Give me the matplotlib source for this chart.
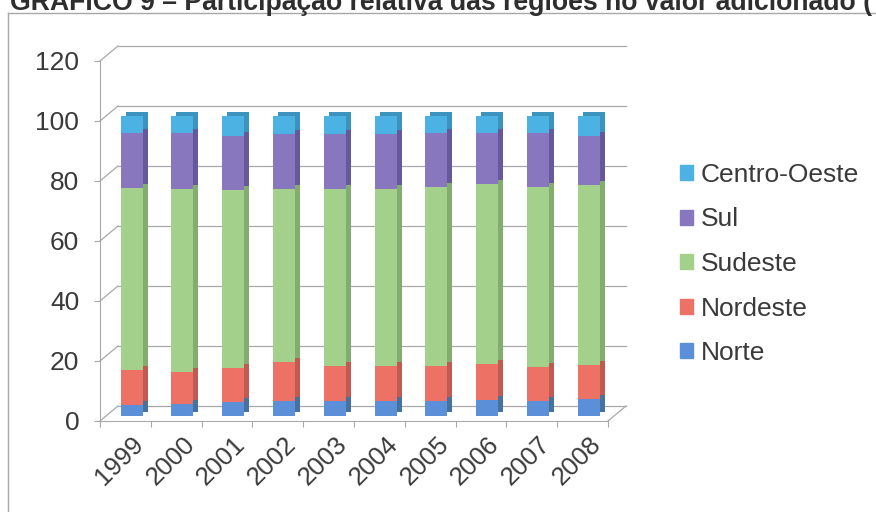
import matplotlib
matplotlib.use('Agg')
import matplotlib.pyplot as plt
from matplotlib.transforms import offset_copy
from matplotlib.patches import Patch
from matplotlib.lines import Line2D
import numpy as np

plt.rcParams['font.family'] = ['Liberation Sans', 'DejaVu Sans']

TITLE = 'GRÁFICO 9 – Participação relativa das regiões no valor adicionado ('
YEARS = ['1999', '2000', '2001', '2002', '2003', '2004', '2005', '2006', '2007', '2008']
REGIONS = ['Norte', 'Nordeste', 'Sudeste', 'Sul', 'Centro-Oeste']
NORTE = [3.7, 3.9, 4.6, 5.0, 5.0, 5.0, 5.0, 5.3, 4.9, 5.6]
NORDESTE = [11.5, 10.9, 11.5, 12.9, 11.8, 11.8, 11.8, 12.1, 11.5, 11.4]
SUDESTE = [60.9, 60.9, 59.3, 57.7, 58.8, 58.8, 59.6, 60.1, 60.0, 60.0]
SUL = [18.1, 18.5, 18.1, 18.3, 18.4, 18.3, 17.8, 16.7, 18.0, 16.4]
CENTRO_OESTE = [5.8, 5.8, 6.5, 6.1, 6.0, 6.1, 5.8, 5.8, 5.6, 6.6]
Y_TICKS = [0, 20, 40, 60, 80, 100, 120]

FRONT = ['#5B8FD8', '#EE7166', '#A3D08A', '#8877BE', '#4CB2E4']
SIDE = ['#46729F', '#C05A52', '#82AD6E', '#66589A', '#3C93BE']
LINE = '#A8A8A8'
TEXT = '#3A3A3A'

fig = plt.figure(figsize=(8.76, 5.12), dpi=100)
ax = fig.add_axes([100 / 876, 1 - 421 / 512, 528 / 876, 375 / 512])
x0, x1 = -0.624, 9.376
ax.set_xlim(x0, 9.77)
ax.set_ylim(0, 125)

# back wall, offset like the 3d excel chart
DX, DY = 0.354, 5
for y in Y_TICKS:
    ax.plot([x0 + DX, x1 + DX], [y + DY, y + DY], color=LINE, lw=0.9, zorder=1, clip_on=False)
    ax.plot([x0, x0 + DX], [y, y + DY], color=LINE, lw=0.9, zorder=1, clip_on=False)
ax.plot([x1, x1 + DX], [0, DY], color=LINE, lw=0.9, zorder=1, clip_on=False)

series = [NORTE, NORDESTE, SUDESTE, SUL, CENTRO_OESTE]
x = np.arange(len(YEARS))
back_tr = offset_copy(ax.transData, fig=fig, x=5, y=9, units='dots')
front_tr = offset_copy(ax.transData, fig=fig, x=0, y=5, units='dots')
bottom = np.zeros(len(YEARS))
for vals, side in zip(series, SIDE):
    ax.bar(x, vals, bottom=bottom, width=0.433, color=side, transform=back_tr,
           zorder=2, clip_on=False, linewidth=0)
    bottom += vals
bottom = np.zeros(len(YEARS))
for vals, col in zip(series, FRONT):
    ax.bar(x, vals, bottom=bottom, width=0.433, color=col, transform=front_tr,
           zorder=3, clip_on=False, linewidth=0)
    bottom += vals

for s in ['top', 'right']:
    ax.spines[s].set_visible(False)
ax.spines['left'].set_bounds(0, 120)
ax.spines['bottom'].set_bounds(x0, x1)
ax.spines['left'].set_color(LINE)
ax.spines['bottom'].set_color(LINE)

ax.set_yticks(Y_TICKS)
ax.tick_params(axis='y', length=4, color=LINE, labelsize=19, labelcolor=TEXT, pad=11)
ax.set_xticks(np.arange(11) + x0)
ax.set_xticklabels([])
ax.tick_params(axis='x', which='major', length=4, color=LINE)
ax.set_xticks(x, minor=True)
ax.set_xticklabels(YEARS, minor=True, rotation=45, ha='right', rotation_mode='anchor')
ax.tick_params(axis='x', which='minor', length=0, labelsize=18.5, labelcolor=TEXT, pad=8)
ax.set_facecolor('none')

handles = [Patch(color=c, label=r) for r, c in zip(REGIONS, FRONT)][::-1]
fig.legend(handles=handles, loc='center left', bbox_to_anchor=(680 / 876, 1 - 264 / 512),
           frameon=False, fontsize=19, labelspacing=0.78, handlelength=0.5, handleheight=0.5,
           handletextpad=0.3, borderpad=0, borderaxespad=0, labelcolor=TEXT)

fig.text(10 / 876, 1 - 10 / 512, TITLE, fontsize=19.2, fontweight='bold', color='#2E2E2E', va='baseline')
fig.add_artist(Line2D([8 / 876, 1], [1 - 13 / 512] * 2, transform=fig.transFigure, color=LINE, lw=1))
fig.add_artist(Line2D([8 / 876] * 2, [0, 1 - 13 / 512], transform=fig.transFigure, color=LINE, lw=1))

fig.savefig('out.png', dpi=100, facecolor='white')
